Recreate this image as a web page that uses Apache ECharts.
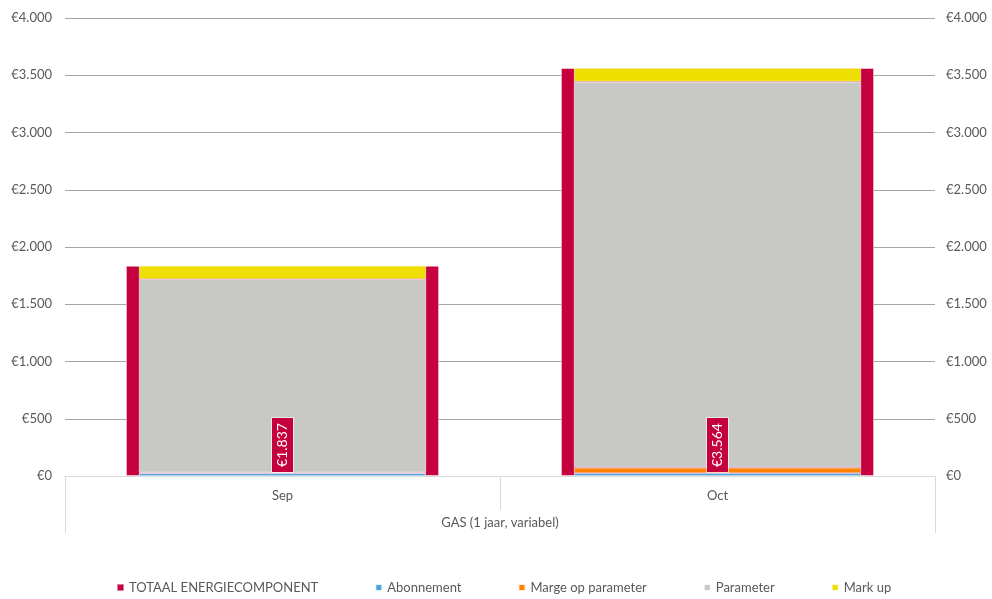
<!DOCTYPE html>
<html>
<head>
<meta charset="utf-8">
<script src="https://cdn.jsdelivr.net/npm/echarts@6/dist/echarts.min.js"></script>
<style>html,body{margin:0;padding:0;background:#fff}#c{width:992px;height:599px}</style>
</head>
<body>
<div id="c"></div>
<script>
var categories = ['Sep', 'Oct'];
var groupLabel = ['GAS (1 jaar, variabel)'];
var totaal = [1837, 3564];
var abonnement = [25, 25];
var marge = [5, 48];
var parameter = [1689, 3371];
var markup = [118, 120];
var seriesNames = ['TOTAAL ENERGIECOMPONENT', 'Abonnement', 'Marge op parameter', 'Parameter', 'Mark up'];
var colors = ['#c5003e', '#4ba6e0', '#ff8200', '#c8c8c6', '#eedf00'];

function fmt(v) {
  return '€' + String(v).replace(/\B(?=(\d{3})+(?!\d))/g, '.');
}

var FONT = 'Lato';
var chart = echarts.init(document.getElementById('c'));
var segStyle = function (c) { return { color: c, borderColor: 'rgba(255,255,255,0.85)', borderWidth: 0.7 }; };

chart.setOption({
  animation: false,
  textStyle: { fontFamily: FONT },
  grid: { left: 65, right: 57, top: 18, bottom: 123, containLabel: false },
  legend: {
    data: seriesNames,
    left: 111, bottom: 0,
    itemWidth: 7, itemHeight: 7, itemGap: 56,
    icon: 'rect',
    textStyle: { color: '#595959', fontSize: 13, fontFamily: FONT }
  },
  xAxis: [
    {
      type: 'category', data: categories, position: 'bottom',
      axisLine: { lineStyle: { color: '#d9d9d9' } },
      axisTick: { show: true, length: 34, interval: 0, lineStyle: { color: '#d9d9d9' } },
      axisLabel: { color: '#595959', fontSize: 13, margin: 13 }
    },
    {
      type: 'category', data: categories, position: 'bottom', show: false
    },
    {
      type: 'category', data: groupLabel, position: 'bottom',
      axisLine: { lineStyle: { color: '#d9d9d9' } },
      axisTick: { show: true, length: 57, lineStyle: { color: '#d9d9d9' } },
      axisLabel: { color: '#595959', fontSize: 13, margin: 40 }
    }
  ],
  yAxis: [
    {
      type: 'value', min: 0, max: 4000, interval: 500, position: 'left',
      axisLine: { show: false }, axisTick: { show: false },
      splitLine: { lineStyle: { color: '#a6a6a6', width: 1 } },
      axisLabel: { color: '#595959', fontSize: 13, margin: 13, formatter: fmt }
    },
    {
      type: 'value', min: 0, max: 4000, interval: 500, position: 'right',
      axisLine: { show: false }, axisTick: { show: false },
      splitLine: { show: false },
      axisLabel: { color: '#595959', fontSize: 13, margin: 11, formatter: fmt }
    }
  ],
  series: [
    { name: seriesNames[0], type: 'bar', xAxisIndex: 0, yAxisIndex: 0, barWidth: '72%', z: 1,
      data: totaal, itemStyle: { color: colors[0], borderColor: 'rgba(255,255,255,0.5)', borderWidth: 1 } },
    { name: seriesNames[1], type: 'bar', xAxisIndex: 1, yAxisIndex: 0, stack: 's', barWidth: '66%', z: 3,
      data: abonnement, itemStyle: segStyle(colors[1]) },
    { name: seriesNames[2], type: 'bar', xAxisIndex: 1, yAxisIndex: 0, stack: 's', barWidth: '66%', z: 3,
      data: marge, itemStyle: segStyle(colors[2]) },
    { name: seriesNames[3], type: 'bar', xAxisIndex: 1, yAxisIndex: 0, stack: 's', barWidth: '66%', z: 3,
      data: parameter, itemStyle: segStyle(colors[3]) },
    { name: seriesNames[4], type: 'bar', xAxisIndex: 1, yAxisIndex: 0, stack: 's', barWidth: '66%', z: 3,
      data: markup, itemStyle: segStyle(colors[4]) },
    { name: 'labels', type: 'bar', xAxisIndex: 0, yAxisIndex: 1, barWidth: '72%', barGap: '-100%', z: 10, silent: true,
      data: totaal, itemStyle: { color: 'rgba(0,0,0,0)' },
      label: {
        show: true, position: 'insideBottom', distance: 4, rotate: 90,
        align: 'left', verticalAlign: 'middle',
        color: '#fff', fontSize: 14, fontFamily: FONT,
        backgroundColor: colors[0], borderColor: 'rgba(255,255,255,0.6)', borderWidth: 1,
        padding: [4, 5, 3, 5],
        formatter: function (p) { return fmt(p.value); }
      }
    }
  ]
});
</script>
</body>
</html>
